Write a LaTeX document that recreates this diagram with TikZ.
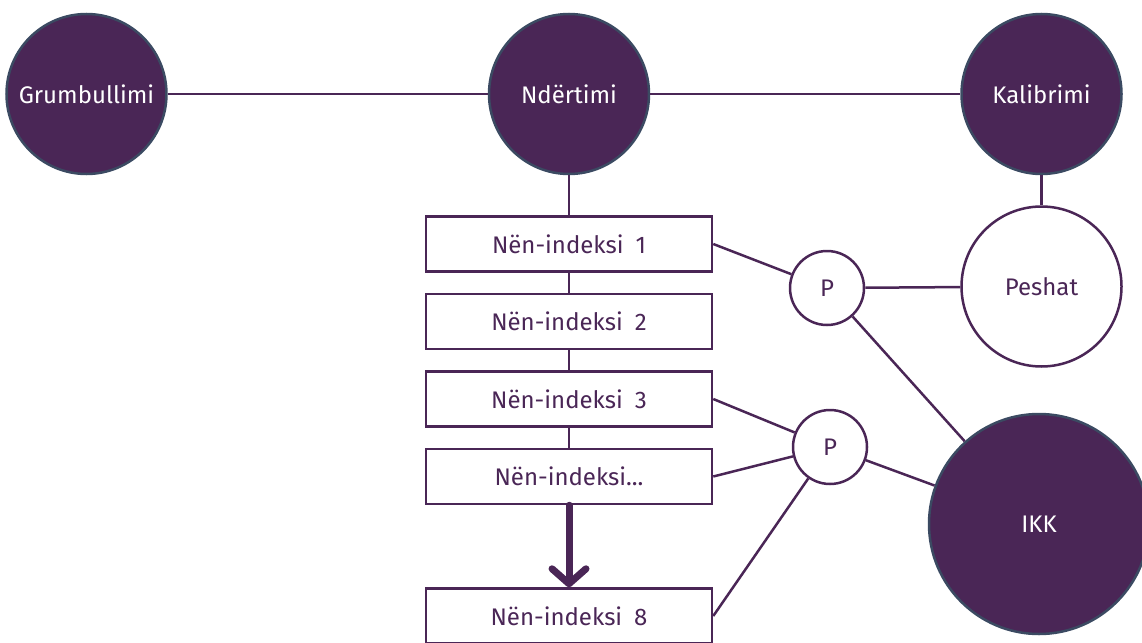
\documentclass[tikz,border=0pt]{standalone}
\usepackage{fontspec}
\setmainfont{Fira Sans}
\usetikzlibrary{positioning,arrows.meta}
\definecolor{plum}{HTML}{4A2656}
\definecolor{slate}{HTML}{3B4A62}
\tikzset{
  stage/.style={circle, fill=plum, draw=slate, line width=2.5pt, minimum size=160pt,
    inner sep=0pt, text=white, font=\fontsize{24}{28}\selectfont},
  weights/.style={circle, fill=white, draw=plum, line width=2.5pt, minimum size=160pt,
    inner sep=0pt, text=plum, font=\fontsize{24}{28}\selectfont},
  subindex/.style={rectangle, draw=plum, line width=2.5pt, minimum width=286pt,
    minimum height=55pt, text=plum, font=\fontsize{24}{28}\selectfont},
  pool/.style={circle, draw=plum, line width=2.5pt, minimum size=74pt, inner sep=0pt,
    text=plum, font=\fontsize{24}{28}\selectfont},
  link/.style={draw=plum, line width=2.5pt},
}
\begin{document}
\begin{tikzpicture}[x=1pt, y=-1pt, node distance=20pt]
    \useasboundingbox (0,0) rectangle (1142,642);

    \node [stage] (ndertimi) at (569,94) {Ndërtimi};
    \node [stage, left=320pt of ndertimi] (grumbullimi) {Grumbullimi};
    \node [stage, right=310pt of ndertimi] (kalibrimi) {Kalibrimi};
    \node [weights, below=30pt of kalibrimi] (peshat) {Peshat};
    \node [stage, minimum size=220pt] (ikk) at (1039,524) {IKK};

    \node [subindex, below=40pt of ndertimi] (sub1) {Nën-indeksi\enspace1};
    \node [subindex, below=of sub1] (sub2) {Nën-indeksi\enspace2};
    \node [subindex, below=of sub2] (sub3) {Nën-indeksi\enspace3};
    \node [subindex, below=of sub3] (sub4) {Nën-indeksi...};
    \node [subindex, below=82pt of sub4] (sub8) {Nën-indeksi\enspace8};

    \node [pool] (pool1) at (827,288) {P};
    \node [pool] (pool2) at (830,447) {P};

    \draw [link] (grumbullimi) -- (ndertimi) -- (kalibrimi);
    \draw [link] (kalibrimi) -- (peshat);
    \draw [link] (ndertimi) -- (sub1) -- (sub2) -- (sub3) -- (sub4);
    \draw [link, line width=7pt, line cap=round,
      -{Straight Barb[length=15pt, width=34pt, round]}] (sub4) -- (sub8);

    \draw [link] (sub1.east) -- (pool1) -- (peshat);
    \draw [link] (pool1) -- (ikk);
    \draw [link] (sub3.east) -- (pool2);
    \draw [link] (sub4.east) -- (pool2);
    \draw [link] (sub8.east) -- (pool2);
    \draw [link] (pool2) -- (ikk);
\end{tikzpicture}
\end{document}
